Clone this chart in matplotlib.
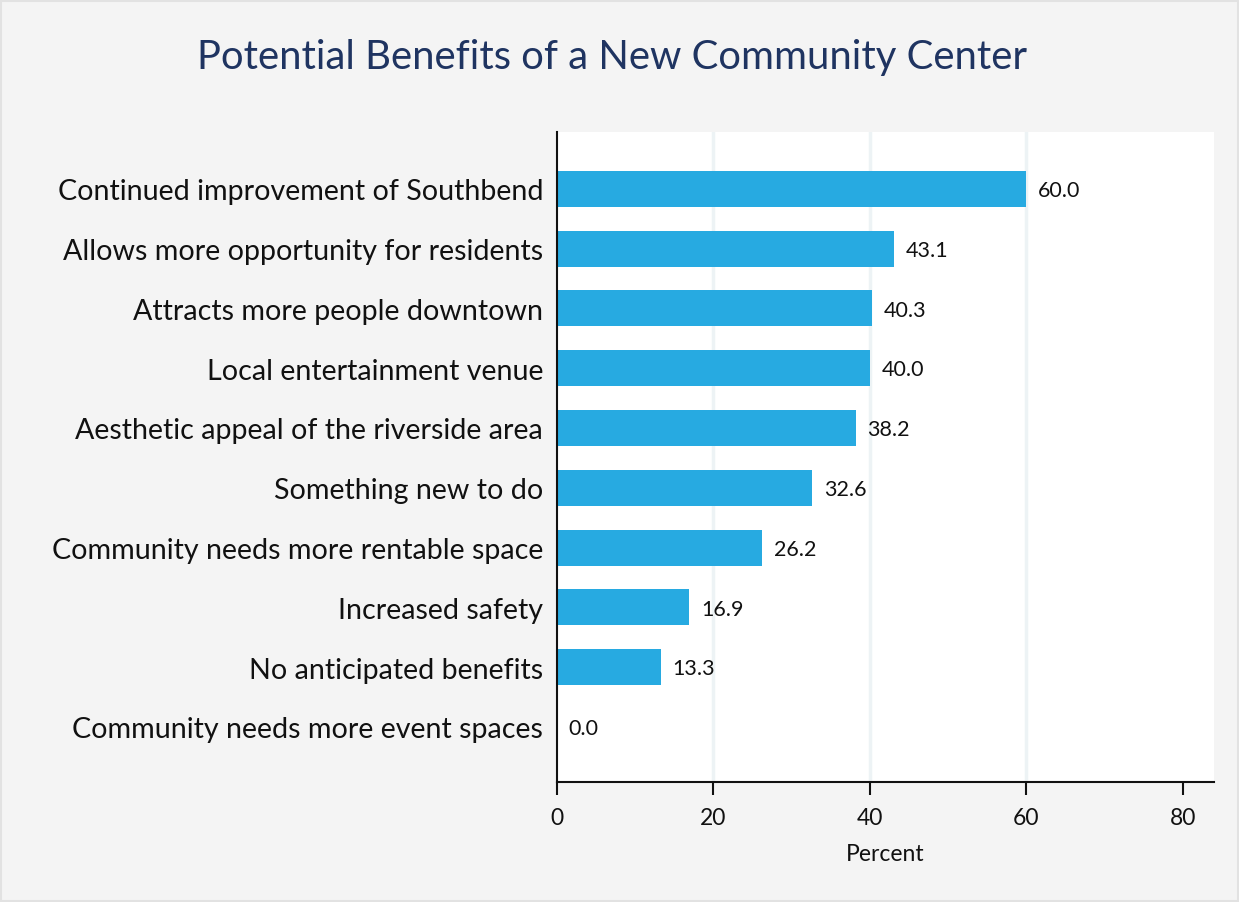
import matplotlib.pyplot as plt
from matplotlib.patches import Rectangle

# survey results, percent of respondents
benefits = [
    "Continued improvement of Southbend",
    "Allows more opportunity for residents",
    "Attracts more people downtown",
    "Local entertainment venue",
    "Aesthetic appeal of the riverside area",
    "Something new to do",
    "Community needs more rentable space",
    "Increased safety",
    "No anticipated benefits",
    "Community needs more event spaces",
]
percent = [60.0, 43.1, 40.3, 40.0, 38.2, 32.6, 26.2, 16.9, 13.3, 0.0]
xticks = [0, 20, 40, 60, 80]
grid_at = [20, 40, 60]

plt.rcParams["font.family"] = ["Lato", "DejaVu Sans"]

fig = plt.figure(figsize=(12.39, 9.03), dpi=100, facecolor="#f4f4f4")
ax = fig.add_axes([557 / 1239, 1 - 783 / 903, (1214 - 557) / 1239, (783 - 133) / 903])
ax.set_facecolor("white")

# thin frame round the whole figure
fig.patches.append(Rectangle((0.001, 0.001), 0.998, 0.997, transform=fig.transFigure,
                             fill=False, edgecolor="#e2e2e2", linewidth=1.5))

ypos = list(range(len(benefits)))
for g in grid_at:
    ax.axvline(g, color="#edf3f5", linewidth=2.5, zorder=0)
ax.barh(ypos, percent, height=0.6, color="#27aae1", zorder=2)
for y, v in zip(ypos, percent):
    ax.text(v + 1.5, y + 0.02, f"{v:.1f}", va="center", ha="left", fontsize=15.5, color="#111111")

ax.set_yticks(ypos)
ax.set_yticklabels(benefits, fontsize=20.6, color="#111111")
ax.set_ylim(9.92, -0.95)
ax.set_xlim(0, 84)
ax.set_xticks(xticks)
ax.tick_params(axis="y", length=0, pad=10)
ax.tick_params(axis="x", length=9, width=1.5, labelsize=16.5, pad=9, colors="#111111")
ax.set_xlabel("Percent", fontsize=16.5, labelpad=11, color="#111111")

for side in ["top", "right"]:
    ax.spines[side].set_visible(False)
for side in ["left", "bottom"]:
    ax.spines[side].set_linewidth(1.5)
    ax.spines[side].set_color("#111111")

fig.text(0.494, 1 - 58 / 903, "Potential Benefits of a New Community Center",
         ha="center", va="center", fontsize=28.8, color="#1f3461")

fig.savefig("out.png", dpi=100, facecolor=fig.get_facecolor())
